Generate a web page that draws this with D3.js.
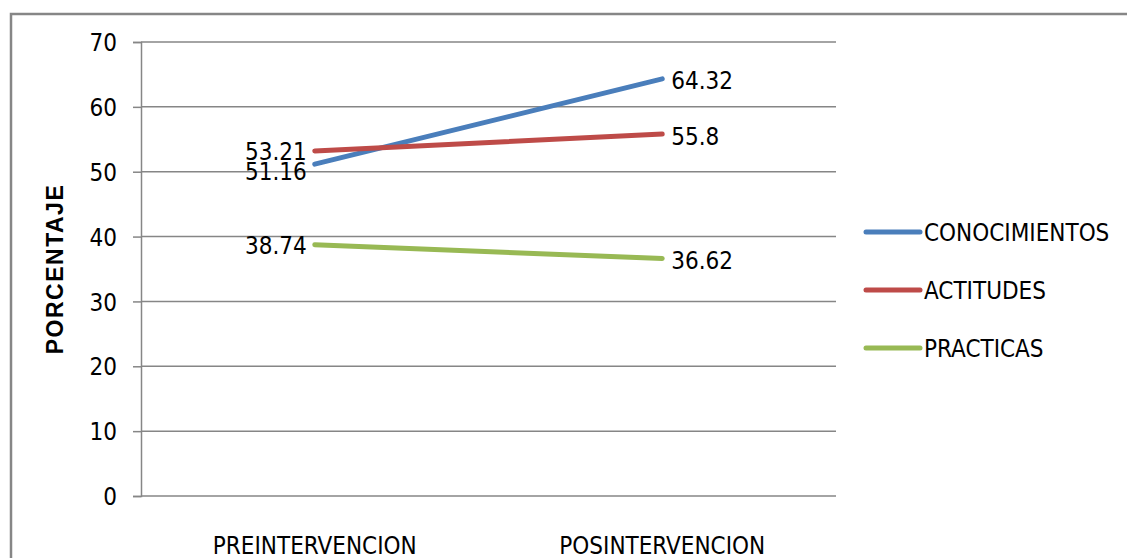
<!DOCTYPE html>
<html>
<head>
<meta charset="utf-8">
<script src="https://cdn.jsdelivr.net/npm/d3@7"></script>
<style>
  html, body { margin: 0; padding: 0; background: #fff; }
  svg { display: block; }
  text { font-family: "Liberation Sans Narrow", "DejaVu Sans Condensed", "Arial Narrow", sans-serif; fill: #000; }
</style>
</head>
<body>
<svg id="chart" width="1127" height="558"></svg>
<script>
// Survey results before and after the intervention (percent)
const categories = ["PREINTERVENCION", "POSINTERVENCION"];
const seriesNames = ["CONOCIMIENTOS", "ACTITUDES", "PRACTICAS"];
const conocimientos = [51.16, 64.32];
const actitudes = [53.21, 55.8];
const practicas = [38.74, 36.62];
const yTicks = [0, 10, 20, 30, 40, 50, 60, 70];
const seriesColors = ["#4a7ebb", "#be4b48", "#98b954"];

const series = [conocimientos, actitudes, practicas].map((vals, i) => ({
  name: seriesNames[i],
  color: seriesColors[i],
  values: vals
}));

const svg = d3.select("#chart");

// outer chart frame
svg.append("rect")
  .attr("x", 11).attr("y", 14)
  .attr("width", 1140).attr("height", 600)
  .attr("fill", "none").attr("stroke", "#868686").attr("stroke-width", 2.5);

const plot = { left: 141, right: 836, top: 42, bottom: 496 };

const x = d3.scaleBand().domain(categories).range([plot.left, plot.right]);
const y = d3.scaleLinear().domain([0, 70]).range([plot.bottom, plot.top]);
const cx = c => x(c) + x.bandwidth() / 2;

// horizontal gridlines + y tick marks
const yAxis = d3.axisLeft(y).tickValues(yTicks).tickSize(8).tickPadding(16).tickFormat(d3.format("d"));
const gy = svg.append("g").attr("transform", `translate(${plot.left},0)`).call(yAxis);
gy.select(".domain").attr("stroke", "#868686").attr("stroke-width", 1.5);
gy.selectAll(".tick line").attr("stroke", "#868686").attr("stroke-width", 1.5);
gy.selectAll(".tick text").attr("font-size", 24).attr("dy", "0.36em");

svg.append("g").selectAll("line").data(yTicks).join("line")
  .attr("x1", plot.left).attr("x2", plot.right)
  .attr("y1", d => y(d)).attr("y2", d => y(d))
  .attr("stroke", "#868686").attr("stroke-width", 1.5);

// category labels
const xAxis = d3.axisBottom(x).tickSize(0).tickPadding(41);
const gx = svg.append("g").attr("transform", `translate(0,${plot.bottom})`).call(xAxis);
gx.select(".domain").remove();
gx.selectAll(".tick text").attr("font-size", 24);

// y axis title
svg.append("text")
  .attr("transform", `translate(63,269) rotate(-90)`)
  .attr("text-anchor", "middle")
  .attr("font-size", 23).attr("font-weight", "bold")
  .attr("letter-spacing", 1.5)
  .style("font-family", "'Liberation Sans', Arial, sans-serif")
  .text("PORCENTAJE");

// series lines
const line = d3.line().x((d, i) => cx(categories[i])).y(d => y(d));
svg.append("g").selectAll("path").data(series).join("path")
  .attr("d", s => line(s.values))
  .attr("fill", "none")
  .attr("stroke", s => s.color)
  .attr("stroke-width", 5)
  .attr("stroke-linecap", "round");

// value labels: left of first point, right of second point
const labelNudge = { "CONOCIMIENTOS": [7, 2], "ACTITUDES": [0, 2], "PRACTICAS": [1, 2] };
series.forEach(s => {
  s.values.forEach((v, i) => {
    const first = i === 0;
    svg.append("text")
      .attr("x", cx(categories[i]) + (first ? -8 : 9))
      .attr("y", y(v) + labelNudge[s.name][i])
      .attr("dy", "0.36em")
      .attr("text-anchor", first ? "end" : "start")
      .attr("font-size", 24)
      .text(v);
  });
});

// legend
const legend = svg.append("g").selectAll("g").data(series).join("g")
  .attr("transform", (d, i) => `translate(866,${232 + i * 58})`);
legend.append("line")
  .attr("x1", 0).attr("x2", 54)
  .attr("stroke", d => d.color).attr("stroke-width", 5).attr("stroke-linecap", "round");
legend.append("text")
  .attr("x", 58).attr("dy", "0.36em")
  .attr("font-size", 24)
  .text(d => d.name);
</script>
</body>
</html>
